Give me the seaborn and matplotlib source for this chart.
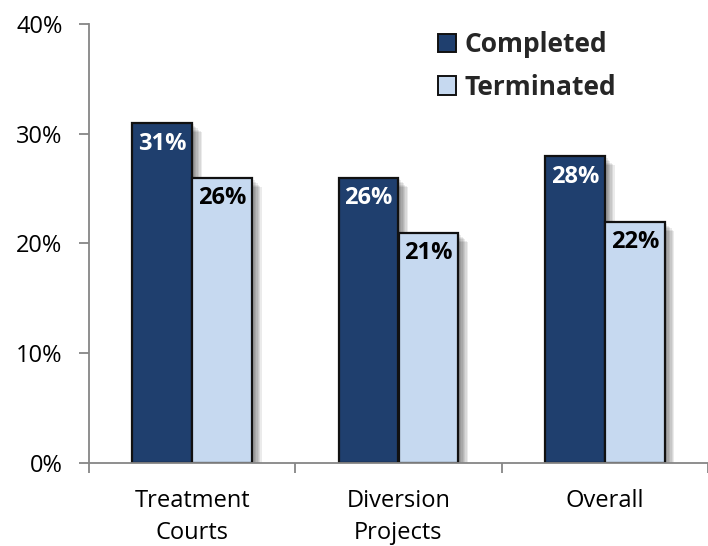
import matplotlib
matplotlib.use("Agg")
import matplotlib.pyplot as plt
import matplotlib.patheffects as pe
from matplotlib.patches import Patch
from matplotlib.ticker import FixedLocator, PercentFormatter
import seaborn as sns
import pandas as pd

categories = ["Treatment\nCourts", "Diversion\nProjects", "Overall"]
series = ["Completed", "Terminated"]
completed = [31, 26, 28]
terminated = [26, 21, 22]
colors = ["#1F3F6E", "#C6D9F0"]
label_colors = ["white", "black"]

df = pd.DataFrame({
    "program": categories * 2,
    "status": [series[0]] * 3 + [series[1]] * 3,
    "rate": completed + terminated,
})

sns.set_style("white")
plt.rcParams["font.family"] = ["Open Sans", "DejaVu Sans"]

fig = plt.figure(figsize=(7.08, 5.46), dpi=100)
ax = fig.add_axes([89 / 708, 1 - 463 / 546, 1 - 89 / 708, (463 - 24) / 546])

sns.barplot(data=df, x="program", y="rate", hue="status", hue_order=series,
            palette=colors, width=0.58, edgecolor="#111111", linewidth=1.6,
            saturation=1, legend=False, ax=ax)

# soft drop shadow under every bar
shadow = [pe.SimplePatchShadow(offset=(d, -d), shadow_rgbFace="black", alpha=0.08)
          for d in range(1, 8)] + [pe.Normal()]
for p in ax.patches:
    p.set_path_effects(shadow)

# value labels inside the top of each bar
for container, tc in zip(ax.containers, label_colors):
    for bar, v in zip(container, container.datavalues):
        ax.annotate(f"{v:.0f}%", (bar.get_x() + bar.get_width() / 2, v),
                    xytext=(0, -15), textcoords="offset points",
                    ha="center", va="center", fontsize=17, fontweight="bold",
                    color=tc)

ax.set_ylim(0, 40)
ax.set_xlim(-0.5, 2.5)
ax.yaxis.set_major_locator(FixedLocator([0, 10, 20, 30, 40]))
ax.yaxis.set_major_formatter(PercentFormatter(decimals=0))
ax.set_xlabel("")
ax.set_ylabel("")

axis_gray = "#868686"
for side in ["top", "right"]:
    ax.spines[side].set_visible(False)
for side in ["left", "bottom"]:
    ax.spines[side].set_color(axis_gray)
    ax.spines[side].set_linewidth(1.3)

ax.tick_params(axis="y", which="major", left=True, length=7, width=1.3,
               color=axis_gray, labelsize=17, pad=12, labelcolor="black")
ax.tick_params(axis="x", which="major", bottom=False, labelsize=17, pad=15,
               labelcolor="black")
for lbl in ax.get_xticklabels():
    lbl.set_linespacing(1.45)
ax.xaxis.set_minor_locator(FixedLocator([-0.5, 0.5, 1.5, 2.5]))
ax.tick_params(axis="x", which="minor", bottom=True, length=7, width=1.3,
               color=axis_gray)

handles = [Patch(facecolor=c, edgecolor="#111111", linewidth=1.4) for c in colors]
ax.legend(handles, series, loc="upper left",
          bbox_to_anchor=(438 / 708, 1 - 31 / 546), bbox_transform=fig.transFigure,
          frameon=False, prop={"weight": "bold", "size": 19},
          handlelength=0.7, handleheight=0.7, handletextpad=0.3,
          labelspacing=0.6, borderpad=0, borderaxespad=0)

fig.savefig("out.png", dpi=100)
